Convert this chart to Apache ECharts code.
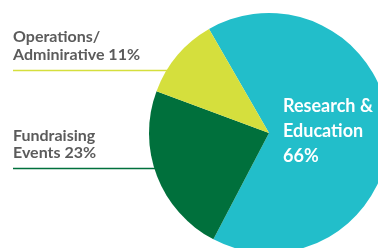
<!DOCTYPE html>
<html>
<head>
<meta charset="utf-8">
<script src="https://cdn.jsdelivr.net/npm/echarts@6/dist/echarts.min.js"></script>
<style>
  html, body { margin: 0; padding: 0; background: #fff; }
  #chart { width: 378px; height: 248px; }
</style>
</head>
<body>
<div id="chart"></div>
<script>
// budget split
const categories = ['Research & Education', 'Fundraising Events', 'Operations/ Adminirative'];
const shares = [66, 23, 11];
const colors = ['#22BECA', '#00703C', '#D5DF3D'];

const chart = echarts.init(document.getElementById('chart'));

const labelFont = 'Lato, "Open Sans", sans-serif';

const option = {
  animation: false,
  series: [
    {
      type: 'pie',
      center: [269, 133],
      radius: 120,
      startAngle: 120,
      clockwise: true,
      z: 5,
      label: { show: false },
      labelLine: { show: false },
      emphasis: { disabled: true },
      data: categories.map((name, i) => ({
        name: name,
        value: shares[i],
        itemStyle: { color: colors[i] }
      }))
    }
  ],
  graphic: [
    // outside labels with their underline
    {
      type: 'text', left: 13, top: 28, z: 10,
      style: {
        text: 'Operations/\nAdminirative ' + shares[2] + '%',
        fill: '#5b5b5b', font: 'bold 16px ' + labelFont, lineHeight: 18
      }
    },
    {
      type: 'line', z: 1,
      shape: { x1: 13, y1: 70.5, x2: 200, y2: 70.5 },
      style: { stroke: colors[2], lineWidth: 1.5 }
    },
    {
      type: 'text', left: 13, top: 127, z: 10,
      style: {
        text: 'Fundraising\nEvents ' + shares[1] + '%',
        fill: '#5b5b5b', font: 'bold 16px ' + labelFont, lineHeight: 17.5
      }
    },
    {
      type: 'line', z: 1,
      shape: { x1: 13, y1: 168.5, x2: 200, y2: 168.5 },
      style: { stroke: colors[1], lineWidth: 1.5 }
    },
    // inside label for the big slice
    {
      type: 'text', left: 283, top: 94, z: 10,
      style: {
        text: 'Research &\nEducation\n' + shares[0] + '%',
        fill: '#ffffff', font: 'bold 18px ' + labelFont, lineHeight: 25
      }
    }
  ]
};

chart.setOption(option);
</script>
</body>
</html>
